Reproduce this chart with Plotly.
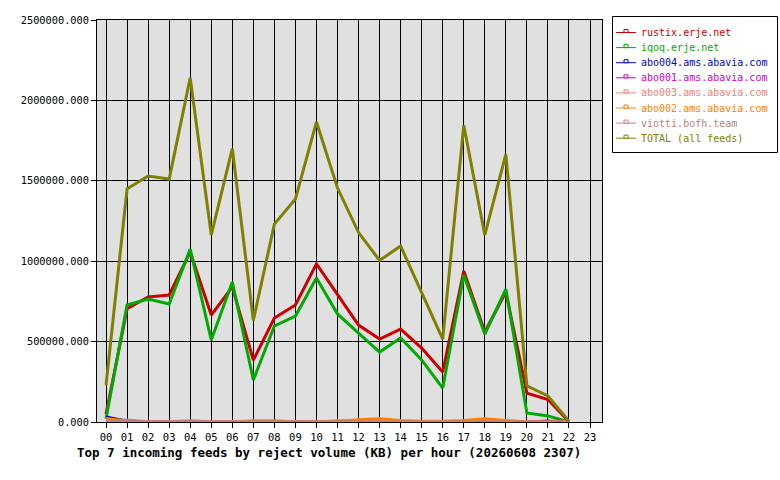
import plotly.graph_objects as go

hours = [f"{h:02d}" for h in range(24)]
hour_idx = list(range(24))

series_names = [
    "rustix.erje.net",
    "iqoq.erje.net",
    "abo004.ams.abavia.com",
    "abo001.ams.abavia.com",
    "abo003.ams.abavia.com",
    "abo002.ams.abavia.com",
    "viotti.bofh.team",
    "TOTAL (all feeds)",
]

rustix = [50000, 705000, 777000, 790000, 1057000, 665000, 840000, 385000, 647000, 728000,
          983000, 790000, 603000, 516000, 578000, 460000, 311000, 939000, 560000, 808000,
          180000, 140000, 2000, None]
iqoq = [20000, 728000, 765000, 734000, 1075000, 510000, 870000, 261000, 597000, 659000,
        895000, 672000, 553000, 435000, 522000, 386000, 211000, 914000, 547000, 827000,
        56000, 38000, 1000, None]
abo004 = [32000, 5000, 0, 0, 0, 0, 0, 0, 0, 0,
          0, 0, 0, 0, 0, 0, 0, 0, 0, 0,
          0, 0, 0, None]
abo001 = [0, 0, 0, 0, 0, 0, 0, 0, 0, 0,
          0, 0, 0, 0, 0, 0, 0, 0, 0, 0,
          0, 6000, 0, None]
abo003 = [0, 0, 0, 0, 0, 0, 0, 0, 0, 0,
          0, 8000, 10000, 5000, 0, 0, 0, 0, 0, 0,
          0, 0, 0, None]
abo002 = [22000, 6000, 0, 0, 0, 0, 0, 8000, 8000, 0,
          0, 3000, 14000, 20000, 10000, 5000, 5000, 10000, 20000, 8000,
          0, 0, 0, None]
viotti = [5000, 12000, 2000, 2000, 8000, 2000, 2000, 2000, 2000, 2000,
          2000, 2000, 2000, 2000, 2000, 2000, 2000, 2000, 2000, 2000,
          2000, 2000, 0, None]
total = [230000, 1450000, 1530000, 1511000, 2140000, 1163000, 1700000, 632000, 1231000, 1387000,
         1866000, 1455000, 1178000, 1005000, 1094000, 800000, 515000, 1845000, 1163000, 1665000,
         225000, 162000, 5000, None]

y_ticks = [0, 500000, 1000000, 1500000, 2000000, 2500000]

colors = ["#cc0000", "#00aa00", "#0000cc", "#cc00cc", "#f08080", "#ff8000", "#c08080", "#808000"]
data = [rustix, iqoq, abo004, abo001, abo003, abo002, viotti, total]

mono = "DejaVu Sans Mono"

# plot area geometry in pixels (used for the hand-made legend box)
PL, PR, PT, PB = 97, 602, 20, 422


def px_x(px):
    return (px - PL) / (PR - PL)


def px_y(py):
    return (PB - py) / (PB - PT)


fig = go.Figure()
for name, vals, col in zip(series_names, data, colors):
    fig.add_trace(go.Scatter(
        x=hour_idx, y=vals, name=name, mode="lines",
        line=dict(color=col, width=3),
        showlegend=False,
    ))

shapes = [dict(type="rect", xref="paper", yref="paper",
               x0=px_x(612.5), x1=px_x(777.5), y0=px_y(152.5), y1=px_y(16.5),
               line=dict(color="black", width=1), fillcolor="white", layer="above")]
annotations = []
for i, (name, col) in enumerate(zip(series_names, colors)):
    cy = 32.5 + 15.1 * i
    shapes.append(dict(type="line", xref="paper", yref="paper",
                       x0=px_x(616), x1=px_x(636), y0=px_y(cy), y1=px_y(cy),
                       line=dict(color=col, width=1), layer="above"))
    shapes.append(dict(type="rect", xref="paper", yref="paper",
                       x0=px_x(624), x1=px_x(628), y0=px_y(cy), y1=px_y(cy - 3),
                       line=dict(color=col, width=1), fillcolor="white", layer="above"))
    annotations.append(dict(text=name, xref="paper", yref="paper",
                            x=px_x(639), y=px_y(cy), xanchor="left", yanchor="middle",
                            showarrow=False,
                            font=dict(family=mono, size=10, color=col)))

annotations.append(dict(
    text="<b>Top 7 incoming feeds by reject volume (KB) per hour (20260608 2307)</b>",
    xref="paper", yref="paper", x=px_x(75), y=px_y(452),
    xanchor="left", yanchor="middle", showarrow=False,
    font=dict(family=mono, size=12.5, color="black"),
))

fig.update_layout(
    width=780, height=480,
    margin=dict(l=PL, r=780 - PR, t=PT, b=480 - PB),
    paper_bgcolor="white",
    plot_bgcolor="#e0e0e0",
    font=dict(family=mono, size=10, color="black"),
    showlegend=False,
    xaxis=dict(
        range=[-0.43, 23.57],
        tickmode="array", tickvals=hour_idx, ticktext=hours,
        showgrid=True, gridcolor="black", gridwidth=1,
        showline=True, linecolor="black", linewidth=1, mirror=True,
        ticks="outside", ticklen=5, tickcolor="black",
        zeroline=False,
        tickfont=dict(family=mono, size=10.5),
    ),
    yaxis=dict(
        range=[0, 2500000],
        tickmode="array", tickvals=y_ticks,
        ticktext=[f"{v:.3f}" for v in y_ticks],
        showgrid=True, gridcolor="black", gridwidth=1,
        showline=True, linecolor="black", linewidth=1, mirror=True,
        ticks="outside", ticklen=5, tickcolor="black",
        zeroline=False,
        tickfont=dict(family=mono, size=10.3),
    ),
    shapes=shapes,
    annotations=annotations,
)

fig.write_html("out.html")
